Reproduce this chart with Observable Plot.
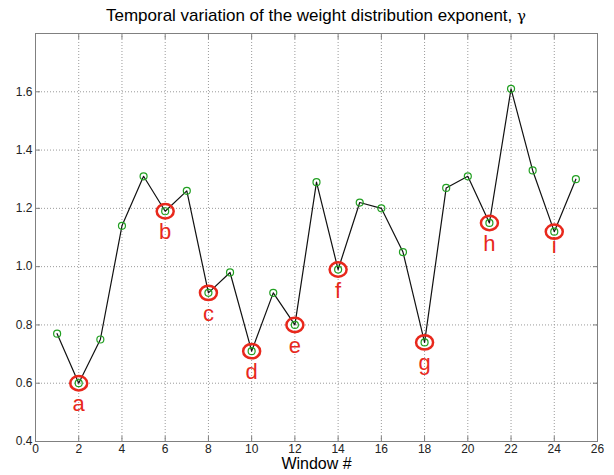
<!DOCTYPE html>
<html>
<head>
<meta charset="utf-8">
<script src="https://cdn.jsdelivr.net/npm/d3@7"></script>
<script src="https://cdn.jsdelivr.net/npm/@observablehq/plot@0.6"></script>
<style>
  html, body { margin: 0; padding: 0; background: #fff; }
  #wrap { position: relative; width: 614px; height: 475px; }
  #title { position: absolute; left: 0; top: 6px; width: 632px; text-align: center;
           font: 17px "Liberation Sans", Arial, sans-serif; color: #000; }
  #title .g { font-family: "DejaVu Serif", "Liberation Serif", serif; font-size: 15px; }
</style>
</head>
<body>
<div id="wrap">
  <div id="title">Temporal variation of the weight distribution exponent, <span class="g">γ</span></div>
</div>
<script>
const windows = [1,2,3,4,5,6,7,8,9,10,11,12,13,14,15,16,17,18,19,20,21,22,23,24,25];
const gamma   = [0.77,0.60,0.75,1.14,1.31,1.19,1.26,0.91,0.98,0.71,0.91,0.80,1.29,0.99,1.22,1.20,1.05,0.74,1.27,1.31,1.15,1.61,1.33,1.12,1.30];
const markedWindows = [2,6,8,10,12,14,18,21,24];
const markedLabels  = ["a","b","c","d","e","f","g","h","i"];
const xTicks = [0,2,4,6,8,10,12,14,16,18,20,22,24,26];
const yTicks = [0.4,0.6,0.8,1.0,1.2,1.4,1.6];

const data = windows.map((w, i) => ({w, g: gamma[i]}));
const marked = markedWindows.map((w, i) => ({w, g: gamma[windows.indexOf(w)], label: markedLabels[i]}));

const red = "#e8281c";
const font = "'Liberation Sans', Arial, sans-serif";

const ellipse = {
  draw(ctx) {
    const rx = 8.5, ry = 7.2, k = 0.5523;
    ctx.moveTo(rx, 0);
    ctx.bezierCurveTo(rx, ry * k, rx * k, ry, 0, ry);
    ctx.bezierCurveTo(-rx * k, ry, -rx, ry * k, -rx, 0);
    ctx.bezierCurveTo(-rx, -ry * k, -rx * k, -ry, 0, -ry);
    ctx.bezierCurveTo(rx * k, -ry, rx, -ry * k, rx, 0);
    ctx.closePath();
  }
};

const chart = Plot.plot({
  width: 614,
  height: 475,
  marginTop: 33,
  marginBottom: 34,
  marginLeft: 35,
  marginRight: 17,
  style: {fontFamily: font, background: "#fff"},
  x: {domain: [0, 26]},
  y: {domain: [0.4, 1.8]},
  marks: [
    Plot.gridX(xTicks, {stroke: "#9a9a9a", strokeOpacity: 1, strokeDasharray: "1,2"}),
    Plot.gridY(yTicks, {stroke: "#9a9a9a", strokeOpacity: 1, strokeDasharray: "1,2"}),
    Plot.frame({stroke: "#808080", strokeWidth: 1}),
    Plot.axisX({ticks: xTicks, tickSize: -5, tickPadding: 8, label: null, fontSize: 12, color: "#222", stroke: "#808080"}),
    Plot.axisX({anchor: "top", ticks: xTicks, tickSize: -5, label: null, tickFormat: () => "", stroke: "#808080"}),
    Plot.axisY({ticks: yTicks, tickSize: -5, tickPadding: 8, label: null, fontSize: 12, color: "#222", stroke: "#808080", tickFormat: d3.format(".1f")}),
    Plot.axisY({anchor: "right", ticks: yTicks, tickSize: -5, label: null, tickFormat: () => "", stroke: "#808080"}),
    Plot.text(["Window #"], {frameAnchor: "bottom", dy: 27, fontSize: 16, fill: "#000"}),
    Plot.line(data, {x: "w", y: "g", stroke: "#111", strokeWidth: 1.2}),
    Plot.dot(data, {x: "w", y: "g", r: 3.5, stroke: "#22a022", strokeWidth: 1.2, fill: "none"}),
    Plot.dot(marked, {x: "w", y: "g", symbol: ellipse, stroke: red, strokeWidth: 2.5, fill: "none"}),
    Plot.text(marked.filter(d => d.label !== "i"), {x: "w", y: "g", text: "label", dy: 21, fontSize: 22, fill: red}),
    Plot.text(marked.filter(d => d.label === "i"), {x: "w", y: "g", text: "label", dy: 14, fontSize: 22, fill: red})
  ]
});
document.getElementById("wrap").prepend(chart);
</script>
</body>
</html>
